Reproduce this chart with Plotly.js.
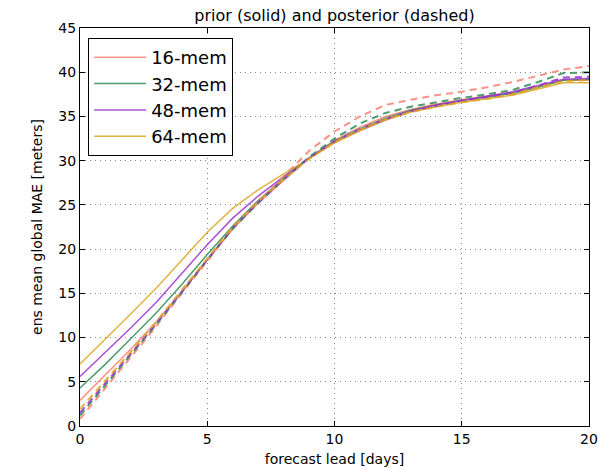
<!DOCTYPE html>
<html>
<head>
<meta charset="utf-8">
<script src="https://cdn.plot.ly/plotly-3.0.1.min.js"></script>
<style>html,body{margin:0;padding:0;background:#fff;}#chart{width:598px;height:469px;}</style>
</head>
<body>
<div id="chart"></div>
<script>
const days = [0,1,2,3,4,5,6,7,8,9,10,11,12,13,14,15,16,17,18,19,20];
const labels = ["16-mem","32-mem","48-mem","64-mem"];
const colors = ["#FA8072","#2E8B57","#9932CC","#DAA520"];

// prior (solid)
const prior16 = [2.9,5.8,8.7,11.8,15.2,18.8,22.3,25.2,27.8,30.3,32.3,33.8,35.0,35.8,36.4,36.9,37.3,37.7,38.4,39.1,39.1];
const prior32 = [4.3,7.0,9.9,12.8,16.0,19.4,22.6,25.5,28.0,30.3,32.2,33.6,34.8,35.7,36.3,36.8,37.2,37.6,38.3,39.1,39.2];
const prior48 = [5.6,8.3,11.1,14.0,17.2,20.5,23.5,26.0,28.2,30.3,32.1,33.4,34.6,35.6,36.3,36.8,37.3,37.8,38.5,39.2,39.3];
const prior64 = [7.0,9.8,12.7,15.6,18.7,21.9,24.6,26.7,28.5,30.2,32.0,33.4,34.6,35.5,36.1,36.6,37.0,37.4,38.1,38.8,38.8];

// posterior (dashed)
const post16 = [0.8,4.3,7.8,11.3,15.0,18.7,22.3,25.3,28.2,31.1,33.3,35.0,36.3,36.9,37.4,37.8,38.3,38.9,39.6,40.3,40.7];
const post32 = [1.2,4.6,8.0,11.5,15.1,18.8,22.3,25.2,27.9,30.4,32.5,34.2,35.4,36.1,36.6,37.1,37.5,38.0,38.9,39.9,40.0];
const post48 = [1.5,4.8,8.2,11.6,15.2,18.9,22.4,25.3,27.9,30.3,32.2,33.6,34.7,35.6,36.2,36.8,37.2,37.7,38.5,39.4,39.5];
const post64 = [1.9,5.1,8.4,11.8,15.4,19.0,22.5,25.4,27.9,30.2,32.1,33.5,34.7,35.5,36.1,36.6,37.0,37.5,38.3,39.0,39.1];

const xTicks = [0,5,10,15,20];
const yTicks = [0,5,10,15,20,25,30,35,40,45];

const priors = [prior16, prior32, prior48, prior64];
const posts = [post16, post32, post48, post64];

const traces = [];
priors.forEach((p,i)=>{
  traces.push({x:days, y:p, mode:'lines', name:labels[i], legendgroup:labels[i],
    line:{color:colors[i], width:1.5}, opacity:0.85});
});
posts.forEach((p,i)=>{
  traces.push({x:days, y:p, mode:'lines', name:labels[i], legendgroup:labels[i], showlegend:false,
    line:{color:colors[i], width:2, dash:'7px,5px'}, opacity:0.85});
});

const font = {family:'DejaVu Sans, sans-serif', color:'#000'};
const axisCommon = {
  showline:true, linecolor:'#000', linewidth:1, mirror:'allticks',
  ticks:'inside', ticklen:5, tickcolor:'#000',
  showgrid:true, gridcolor:'#888', griddash:'1px,4px', gridwidth:1.2,
  zeroline:false, ticklabeloverflow:'allow',
  tickfont:{family:font.family, size:14, color:'#000'}
};

const layout = {
  width:598, height:469,
  margin:{l:80, r:9, t:28, b:43},
  paper_bgcolor:'#fff', plot_bgcolor:'#fff',
  font:font,
  title:{text:'prior (solid) and posterior (dashed)', font:{family:font.family, size:16, color:'#000'},
    x:0.5, xref:'paper', y:0.967, yref:'container', yanchor:'middle'},
  xaxis:Object.assign({}, axisCommon, {range:[0,20], tickvals:xTicks,
    title:{text:'forecast lead [days]', font:{family:font.family, size:14, color:'#000'}, standoff:8}}),
  yaxis:Object.assign({}, axisCommon, {range:[0,45], tickvals:yTicks,
    title:{text:'ens mean global MAE [meters]', font:{family:font.family, size:14, color:'#000'}, standoff:12}}),
  showlegend:true,
  legend:{x:0.016, y:0.975, xanchor:'left', yanchor:'top', bgcolor:'#fff',
    bordercolor:'#000', borderwidth:1, font:{family:font.family, size:18, color:'#000'},
    tracegroupgap:0, itemwidth:52}
};

Plotly.newPlot('chart', traces, layout, {displayModeBar:false, staticPlot:true});
</script>
</body>
</html>
